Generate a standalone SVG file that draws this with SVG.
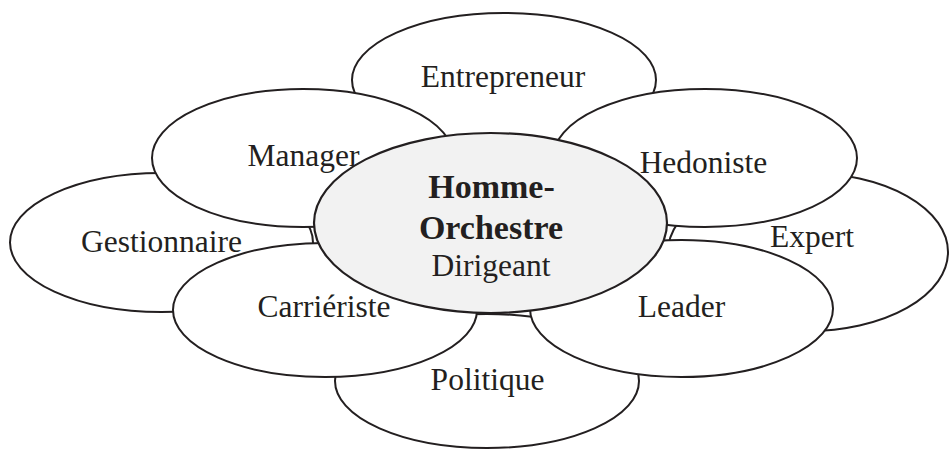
<svg xmlns="http://www.w3.org/2000/svg" width="949" height="450" viewBox="0 0 949 450">
<style>
.petal{fill:#ffffff;stroke:#231f20;stroke-width:2}
.core{fill:#f2f2f2;stroke:#231f20;stroke-width:2.2}
.t{font-family:"Liberation Serif","Times New Roman",serif;font-size:31.5px;fill:#231f20;text-anchor:middle}
.b{font-weight:bold;font-size:34px}
</style>
<rect width="949" height="450" fill="#ffffff"/>
<g id="connectors"></g>
<g id="entrepreneur"><ellipse class="petal" cx="504" cy="80" rx="152" ry="67"/><text class="t" x="503" y="87">Entrepreneur</text></g>
<g id="gestionnaire"><ellipse class="petal" cx="161.5" cy="242.5" rx="151.5" ry="69.5"/><text class="t" x="161.5" y="252">Gestionnaire</text></g>
<g id="expert"><ellipse class="petal" cx="808" cy="252" rx="140" ry="79"/><text class="t" x="812" y="247">Expert</text></g>
<g id="politique"><ellipse class="petal" cx="487" cy="381" rx="152" ry="67"/><text class="t" x="487.5" y="390">Politique</text></g>
<g id="manager"><ellipse class="petal" cx="303" cy="158" rx="151" ry="69"/><text class="t" x="303.5" y="166">Manager</text></g>
<g id="hedoniste"><ellipse class="petal" cx="705" cy="158" rx="152" ry="69"/><text class="t" x="703.5" y="173">Hedoniste</text></g>
<g id="carrieriste"><ellipse class="petal" cx="325" cy="310" rx="152" ry="67"/><text class="t" x="324" y="317">Carriériste</text></g>
<g id="leader"><ellipse class="petal" cx="681.5" cy="308.5" rx="151.5" ry="68.5"/><text class="t" x="681.5" y="317">Leader</text></g>
<g id="dirigeant"><ellipse class="core" cx="490.5" cy="223" rx="176.5" ry="90"/>
<text class="t b" x="491.5" y="198">Homme-</text>
<text class="t b" x="491" y="239">Orchestre</text>
<text class="t" x="491" y="276">Dirigeant</text></g>
</svg>
